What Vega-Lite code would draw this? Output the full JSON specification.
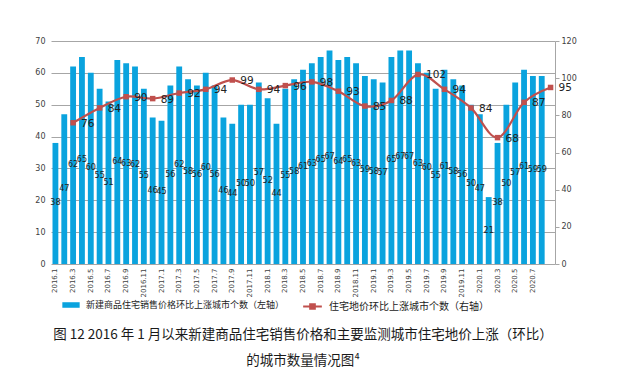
{
  "$schema": "https://vega.github.io/schema/vega-lite/v6.json",
  "width": 504,
  "height": 223,
  "autosize": {"type": "none"},
  "padding": {"left": 51, "top": 41, "right": 74, "bottom": 106},
  "background": "white",
  "config": {"view": {"stroke": null}, "font": "DejaVu Sans"},
  "title": {
    "text": ["图 12 2016 年 1 月以来新建商品住宅销售价格和主要监测城市住宅地价上涨（环比）", "的城市数量情况图⁴"],
    "orient": "bottom",
    "anchor": "middle",
    "font": "Noto Sans CJK SC",
    "fontSize": 13.5,
    "fontWeight": "normal",
    "lineHeight": 26,
    "offset": 15,
    "color": "#1a1a1a"
  },
  "data": {
    "values": [
      {"m": "2016.1", "v": 38, "land": null},
      {"m": "2016.2", "v": 47, "land": null},
      {"m": "2016.3", "v": 62, "land": 76},
      {"m": "2016.4", "v": 65, "land": null},
      {"m": "2016.5", "v": 60, "land": null},
      {"m": "2016.6", "v": 55, "land": 84},
      {"m": "2016.7", "v": 51, "land": null},
      {"m": "2016.8", "v": 64, "land": null},
      {"m": "2016.9", "v": 63, "land": 90},
      {"m": "2016.10", "v": 62, "land": null},
      {"m": "2016.11", "v": 55, "land": null},
      {"m": "2016.12", "v": 46, "land": 89},
      {"m": "2017.1", "v": 45, "land": null},
      {"m": "2017.2", "v": 56, "land": null},
      {"m": "2017.3", "v": 62, "land": 92},
      {"m": "2017.4", "v": 58, "land": null},
      {"m": "2017.5", "v": 56, "land": null},
      {"m": "2017.6", "v": 60, "land": 94},
      {"m": "2017.7", "v": 56, "land": null},
      {"m": "2017.8", "v": 46, "land": null},
      {"m": "2017.9", "v": 44, "land": 99},
      {"m": "2017.10", "v": 50, "land": null},
      {"m": "2017.11", "v": 50, "land": null},
      {"m": "2017.12", "v": 57, "land": 94},
      {"m": "2018.1", "v": 52, "land": null},
      {"m": "2018.2", "v": 44, "land": null},
      {"m": "2018.3", "v": 55, "land": 96},
      {"m": "2018.4", "v": 58, "land": null},
      {"m": "2018.5", "v": 61, "land": null},
      {"m": "2018.6", "v": 63, "land": 98},
      {"m": "2018.7", "v": 65, "land": null},
      {"m": "2018.8", "v": 67, "land": null},
      {"m": "2018.9", "v": 64, "land": 93},
      {"m": "2018.10", "v": 65, "land": null},
      {"m": "2018.11", "v": 63, "land": null},
      {"m": "2018.12", "v": 59, "land": 85},
      {"m": "2019.1", "v": 58, "land": null},
      {"m": "2019.2", "v": 57, "land": null},
      {"m": "2019.3", "v": 65, "land": 88},
      {"m": "2019.4", "v": 67, "land": null},
      {"m": "2019.5", "v": 67, "land": null},
      {"m": "2019.6", "v": 63, "land": 102},
      {"m": "2019.7", "v": 60, "land": null},
      {"m": "2019.8", "v": 55, "land": null},
      {"m": "2019.9", "v": 61, "land": 94},
      {"m": "2019.10", "v": 58, "land": null},
      {"m": "2019.11", "v": 56, "land": null},
      {"m": "2019.12", "v": 50, "land": 84},
      {"m": "2020.1", "v": 47, "land": null},
      {"m": "2020.2", "v": 21, "land": null},
      {"m": "2020.3", "v": 38, "land": 68},
      {"m": "2020.4", "v": 50, "land": null},
      {"m": "2020.5", "v": 57, "land": null},
      {"m": "2020.6", "v": 61, "land": 87},
      {"m": "2020.7", "v": 59, "land": null},
      {"m": "2020.8", "v": 59, "land": null},
      {"m": "2020.9", "v": null, "land": 95}
    ]
  },
  "encoding": {
    "x": {
      "field": "m",
      "type": "ordinal",
      "sort": null,
      "title": null,
      "scale": {"paddingInner": 0.34, "paddingOuter": 0.17},
      "axis": {
        "labelAngle": 270,
        "labelFontSize": 7,
        "labelColor": "#404040",
        "labelPadding": 4,
        "ticks": false,
        "domain": false,
        "labelOverlap": false,
        "labelExpr": "(toNumber(split(datum.value, '.')[1]) % 2 == 1 && datum.value != '2020.9') ? datum.value : ''"
      }
    }
  },
  "layer": [
    {
      "transform": [{"filter": "datum.v != null"}],
      "mark": {"type": "bar"},
      "encoding": {
        "y": {
          "field": "v",
          "type": "quantitative",
          "title": null,
          "scale": {"domain": [0, 70]},
          "axis": {
            "orient": "left",
            "values": [0, 10, 20, 30, 40, 50, 60, 70],
            "domain": false,
            "ticks": false,
            "labelFontSize": 8,
            "labelColor": "#404040",
            "labelPadding": 6,
            "grid": true,
            "gridColor": "#A6A6A6",
            "gridWidth": 1
          }
        },
        "fill": {
          "datum": "新建商品住宅销售价格环比上涨城市个数（左轴）",
          "scale": {"range": ["#0AA3DE"]},
          "legend": {
            "orient": "none",
            "legendX": 11,
            "legendY": 255,
            "title": null,
            "symbolType": "M-1,-0.32H1V0.32H-1Z",
            "symbolSize": 300,
            "symbolStrokeWidth": 0,
            "labelFont": "Noto Sans CJK SC",
            "labelFontSize": 9,
            "labelLimit": 400,
            "labelColor": "#222222",
            "labelOffset": 6
          }
        }
      }
    },
    {
      "transform": [{"filter": "datum.v != null"}],
      "mark": {"type": "text", "fontSize": 8, "color": "#222222", "baseline": "middle", "align": "center"},
      "encoding": {
        "y": {"field": "v", "type": "quantitative", "scale": {"domain": [0, 140]}, "axis": null},
        "text": {"field": "v", "type": "quantitative"}
      }
    },
    {
      "transform": [{"filter": "datum.land != null"}],
      "encoding": {
        "y": {
          "field": "land",
          "type": "quantitative",
          "title": null,
          "scale": {"domain": [0, 120]},
          "axis": {
            "orient": "right",
            "values": [0, 20, 40, 60, 80, 100, 120],
            "domain": true,
            "domainColor": "#A6A6A6",
            "ticks": true,
            "tickColor": "#A6A6A6",
            "tickSize": 4,
            "labelFontSize": 8,
            "labelColor": "#404040",
            "labelPadding": 2,
            "grid": false
          }
        }
      },
      "layer": [
        {
          "mark": {"type": "line", "interpolate": "cardinal", "strokeWidth": 2.2},
          "encoding": {
            "stroke": {
              "datum": "住宅地价环比上涨城市个数（右轴）",
              "scale": {"range": ["#C0504D"]},
              "legend": {
                "orient": "none",
                "legendX": 251,
                "legendY": 255,
                "title": null,
                "symbolType": "M-1,0H1M-0.25,-0.25H0.25V0.25H-0.25Z",
                "symbolSize": 350,
                "symbolStrokeWidth": 2,
                "symbolFillColor": "#C0504D",
                "labelFont": "Noto Sans CJK SC",
                "labelFontSize": 10,
                "labelLimit": 400,
                "labelColor": "#222222",
                "labelOffset": 6
              }
            }
          }
        },
        {
          "mark": {"type": "point", "shape": "square", "filled": true, "size": 30, "color": "#C0504D", "opacity": 1}
        },
        {
          "mark": {"type": "text", "fontSize": 10.5, "color": "#222222", "align": "left", "baseline": "middle", "dx": 8, "dy": 1},
          "encoding": {"text": {"field": "land", "type": "quantitative"}}
        }
      ]
    }
  ],
  "resolve": {"scale": {"y": "independent", "fill": "independent", "stroke": "independent"}}
}
